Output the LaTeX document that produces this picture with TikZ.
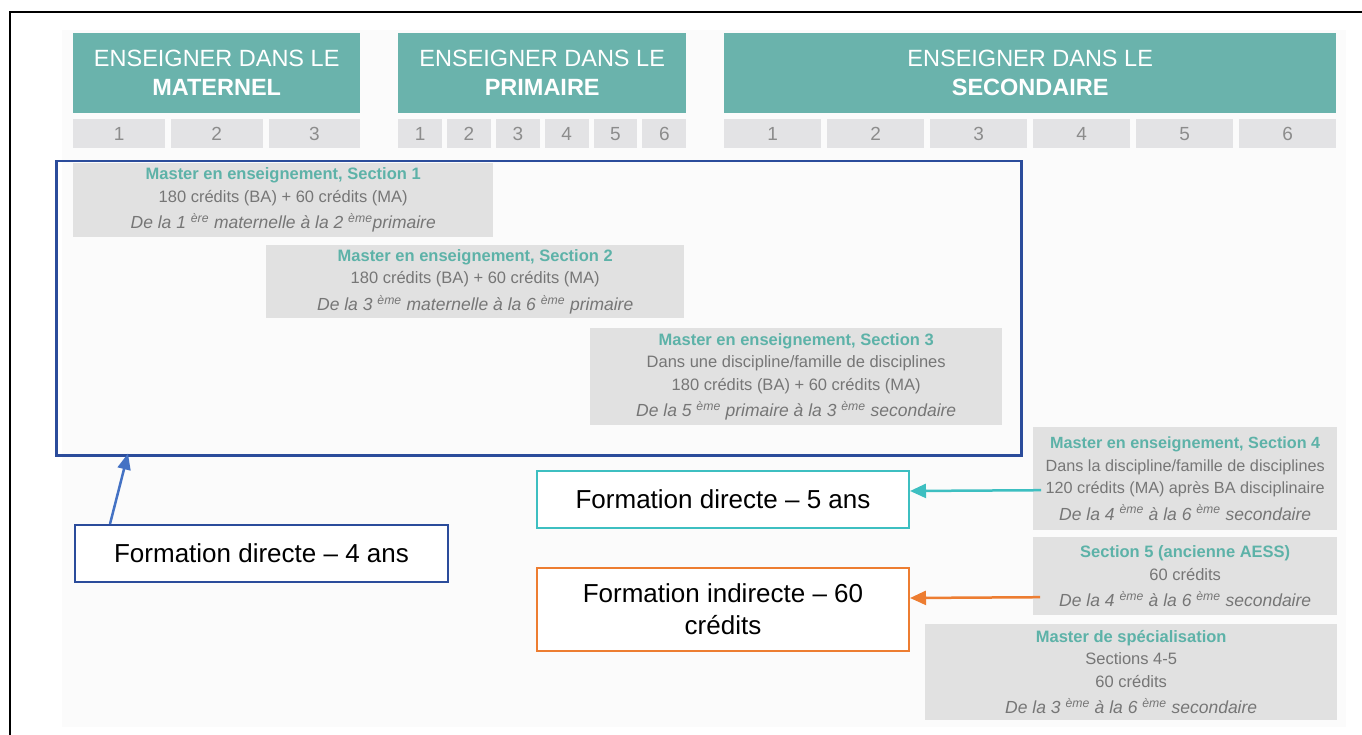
\documentclass[tikz,border=0pt]{standalone}
\usepackage{fontspec}
\setmainfont{Liberation Sans}
\usetikzlibrary{arrows.meta}
\definecolor{hdrteal}{HTML}{6AB3AC}
\definecolor{numcell}{HTML}{E3E3E5}
\definecolor{numtext}{HTML}{8C8C8C}
\definecolor{secgray}{HTML}{E1E1E1}
\definecolor{titleteal}{HTML}{5DB2A8}
\definecolor{bodygray}{HTML}{767676}
\definecolor{frameblue}{HTML}{2B4C9B}
\definecolor{arrowblue}{HTML}{4472C4}
\definecolor{boxteal}{HTML}{3DBFC1}
\definecolor{boxorange}{HTML}{ED7D31}
\definecolor{slidebg}{HTML}{FBFBFB}
\newcommand{\itl}[1]{{\fontsize{17.5}{22.5}\selectfont\itshape #1}}
\begin{document}
\begin{tikzpicture}[x=1pt,y=-1pt,
  hdr/.style={anchor=north west, fill=hdrteal, text=white, inner sep=0pt, align=center,
    minimum height=80pt, font=\fontsize{23.5}{29}\selectfont},
  numbox/.style={anchor=north west, fill=numcell, text=numtext, inner sep=0pt,
    minimum height=29pt, font=\fontsize{19}{22}\selectfont},
  secbox/.style={anchor=north west, fill=secgray, text=bodygray, inner sep=0pt, align=center,
    font=\fontsize{16.5}{22.5}\selectfont},
  formbox/.style={anchor=north west, fill=white, line width=2pt, inner sep=0pt, align=center,
    font=\fontsize{26}{32}\selectfont, text=black},
  arr/.style={line width=2.5pt, -{Triangle[length=16pt,width=14pt]}}
]
\useasboundingbox (0,0) rectangle (1362,735);
\fill[white] (0,0) rectangle (1362,735);
\fill[slidebg] (62,30) rectangle (1346,727);
\draw[line width=1.5pt] (10,735) -- (10,12) -- (1362,12);

% headers
\node[hdr, minimum width=287pt] (hm) at (73,33) {ENSEIGNER DANS LE\\\textbf{MATERNEL}};
\node[hdr, minimum width=288pt] (hp) at (398,33) {ENSEIGNER DANS LE\\\textbf{PRIMAIRE}};
\node[hdr, minimum width=612pt] (hs) at (724,33) {ENSEIGNER DANS LE\\\textbf{SECONDAIRE}};

% number cells
\foreach \i in {1,2,3}
  \node[numbox, minimum width=91.7pt] (m\i) at ({73+(\i-1)*97.67},119) {\i};
\foreach \i in {1,...,6}
  \node[numbox, minimum width=43.8pt] (p\i) at ({398+(\i-1)*48.84},119) {\i};
\foreach \i in {1,...,6}
  \node[numbox, minimum width=97pt] (s\i) at ({724+(\i-1)*103},119) {\i};

% blue frame
\node[anchor=north west, draw=frameblue, line width=2.5pt, minimum width=965pt, minimum height=294pt, inner sep=0pt] (frame) at (55,160) {};

% section boxes
\node[secbox, minimum width=420pt, minimum height=74pt] (s1) at (73,163)
  {\textcolor{titleteal}{\textbf{Master en enseignement, Section 1}}\\
   180 crédits (BA) + 60 crédits (MA)\\[4pt]
   \itl{De la 1 \textsuperscript{ère} maternelle à la 2 \textsuperscript{ème}primaire}};
\node[secbox, minimum width=418pt, minimum height=73pt] (s2) at (266,245)
  {\textcolor{titleteal}{\textbf{Master en enseignement, Section 2}}\\
   180 crédits (BA) + 60 crédits (MA)\\[4pt]
   \itl{De la 3 \textsuperscript{ème} maternelle à la 6 \textsuperscript{ème} primaire}};
\node[secbox, minimum width=412pt, minimum height=97pt] (s3) at (590,328)
  {\textcolor{titleteal}{\textbf{Master en enseignement, Section 3}}\\
   Dans une discipline/famille de disciplines\\
   180 crédits (BA) + 60 crédits (MA)\\[4pt]
   \itl{De la 5 \textsuperscript{ème} primaire à la 3 \textsuperscript{ème} secondaire}};
\node[secbox, minimum width=304pt, minimum height=103pt, font=\fontsize{16.2}{22.5}\selectfont] (s4) at (1033,427)
  {\textcolor{titleteal}{\textbf{Master en enseignement, Section 4}}\\
   Dans la discipline/famille de disciplines\\
   120 crédits (MA) après BA disciplinaire\\[4pt]
   \itl{De la 4 \textsuperscript{ème} à la 6 \textsuperscript{ème} secondaire}};
\node[secbox, minimum width=304pt, minimum height=78pt] (s5) at (1033,537)
  {\textcolor{titleteal}{\textbf{Section 5 (ancienne AESS)}}\\
   60 crédits\\[4pt]
   \itl{De la 4 \textsuperscript{ème} à la 6 \textsuperscript{ème} secondaire}};
\node[secbox, minimum width=412pt, minimum height=96pt] (ms) at (925,624)
  {\textcolor{titleteal}{\textbf{Master de spécialisation}}\\
   Sections 4-5\\
   60 crédits\\[4pt]
   \itl{De la 3 \textsuperscript{ème} à la 6 \textsuperscript{ème} secondaire}};

% formation boxes
\node[formbox, draw=frameblue, minimum width=373pt, minimum height=57pt] (f4) at (74,524)
  {Formation directe -- 4 ans};
\node[formbox, draw=boxteal, minimum width=372pt, minimum height=57pt] (f5) at (536,470)
  {Formation directe -- 5 ans};
\node[formbox, draw=boxorange, minimum width=372pt, minimum height=83pt] (f60) at (536,567)
  {Formation indirecte -- 60\\crédits};

% arrows
\draw[arr, arrowblue, -{Triangle[length=16pt,width=13pt]}] ([xshift=36pt]f4.north west) -- ([xshift=73pt,yshift=3pt]frame.south west);
\draw[arr, boxteal] ([xshift=8pt,yshift=-11.5pt]s4.west) -- ([yshift=8.5pt]f5.east);
\draw[arr, boxorange] ([xshift=7pt,yshift=-21pt]s5.west) -- ([yshift=11.5pt]f60.east);
\end{tikzpicture}
\end{document}
